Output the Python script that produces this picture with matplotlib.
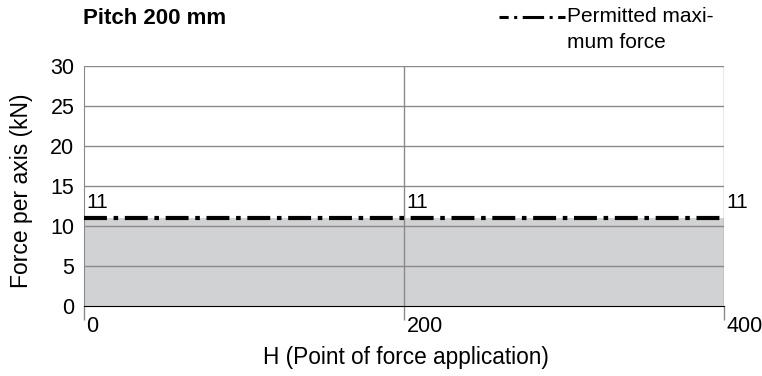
import matplotlib as mpl
import matplotlib.pyplot as plt
import numpy as np

mpl.rc('font', family=['Liberation Sans', 'DejaVu Sans'], size=15)

h = [0, 200, 400]
force = [11, 11, 11]
yticks = [0, 5, 10, 15, 20, 25, 30]
xticks = [0, 200, 400]

fig = plt.figure(figsize=(7.62, 3.76), dpi=100, facecolor="w")
ax = fig.add_axes([84/762, 70/376, 640/762, 240/376])

ax.fill_between(h, 0, force, facecolor="#d1d2d4", edgecolor="none", zorder=1)
for y in yticks[1:]:
  ax.axhline(y, color="#8a8a8a", lw=1, zorder=2)
for x in xticks[1:]:
  ax.axvline(x, color="#8a8a8a", lw=1, zorder=2)
ax.plot(h, force, color="black", lw=3, dashes=(5.5, 1.6, 1.1, 1.6), zorder=4,
  solid_capstyle="butt", dash_capstyle="butt")
for x, y in zip(h, force):
  ax.text(x + 1.5, y + 0.7, str(y), ha="left", va="bottom", fontsize=15)

ax.set_xlim(0, 400)
ax.set_ylim(0, 30)
ax.set_yticks(yticks)
ax.set_xticks(xticks)
ax.set_xticklabels([])
ax.set_yticklabels([str(v) for v in yticks], fontsize=15.5)
for x in xticks:
  ax.text(x + 1.5, -1.2, str(x), ha="left", va="top", fontsize=15.5)
ax.tick_params(axis="x", length=10, color="#8a8a8a", width=1)
ax.tick_params(axis="y", length=0, pad=7)
for s in ["top", "right"]:
  ax.spines[s].set_visible(False)
ax.spines["left"].set_color("#8a8a8a")
ax.spines["bottom"].set_color("black")
ax.spines["bottom"].set_zorder(5)

fig.text(22/762, 1 - 191/376, "Force per axis (kN)", fontsize=16.5, rotation=90,
  ha="center", va="center")
ax.text(201, -6.4, "H (Point of force application)", ha="center", va="center", fontsize=16.3)

fig.text(83/762, 1 - 18/376, "Pitch 200 mm", fontsize=16, fontweight="bold",
  ha="left", va="center")
fig.add_artist(mpl.lines.Line2D([499/762, 565/762], [1 - 17/376, 1 - 17/376],
  color="black", lw=2.2, dashes=(3, 1.8, 1, 1.8, 7, 1.8, 1, 1.8)))
fig.text(567/762, 1 - 17/376, "Permitted maxi-", fontsize=15, ha="left", va="center")
fig.text(567/762, 1 - 42/376, "mum force", fontsize=15, ha="left", va="center")

plt.savefig("out.png", dpi=100)
